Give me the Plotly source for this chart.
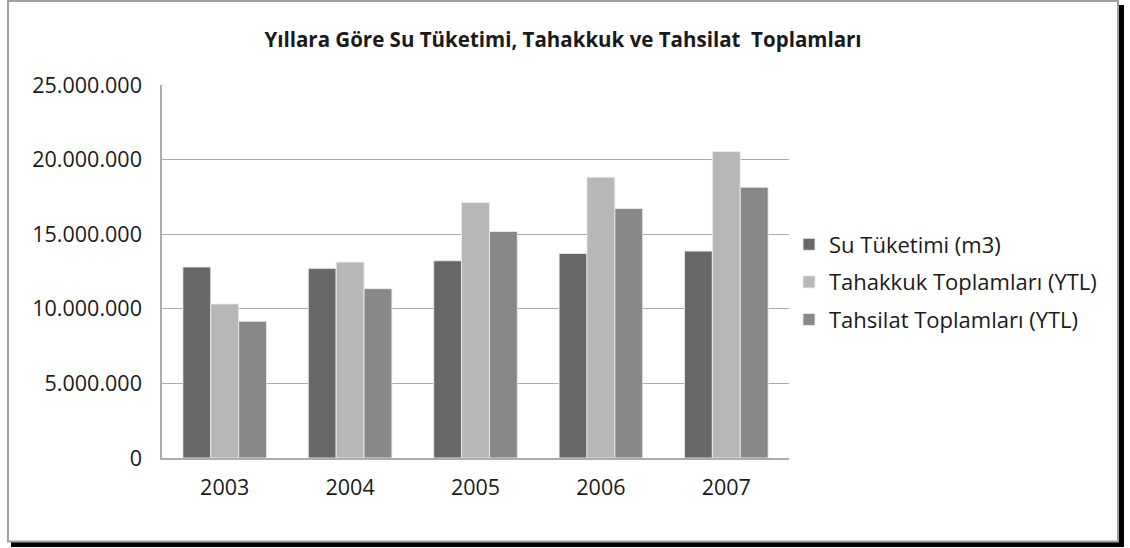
import plotly.graph_objects as go

years = ["2003", "2004", "2005", "2006", "2007"]
su_tuketimi = [12800000, 12710000, 13220000, 13710000, 13870000]
tahakkuk = [10320000, 13130000, 17120000, 18820000, 20540000]
tahsilat = [9160000, 11350000, 15180000, 16720000, 18150000]

series = [
    ("Su Tüketimi (m3)", su_tuketimi, "#686868"),
    ("Tahakkuk Toplamları (YTL)", tahakkuk, "#B7B7B7"),
    ("Tahsilat Toplamları (YTL)", tahsilat, "#888888"),
]

FONT = "Open Sans, sans-serif"
W, H = 1130, 548
L, R, T, B = 162, 341, 85, 90
PW, PH = W - L - R, H - T - B


def px_x(x):
    return (x - L) / PW


def px_y(y):
    return (H - B - y) / PH


fig = go.Figure()
for i, (name, vals, color) in enumerate(series):
    fig.add_trace(go.Bar(
        x=years, y=vals, name=name,
        marker=dict(color=color, line=dict(color="rgba(235,235,235,0.9)", width=1)),
        legendgroup=f"g{i}",
    ))

# chart frame with a drop shadow, like the spreadsheet export
fig.add_shape(type="rect", xref="paper", yref="paper", layer="below",
              x0=px_x(11), x1=px_x(1124), y0=px_y(547), y1=px_y(5),
              fillcolor="black", line=dict(width=0))
fig.add_shape(type="rect", xref="paper", yref="paper", layer="below",
              x0=px_x(8), x1=px_x(1118), y0=px_y(541.5), y1=px_y(1),
              fillcolor="white", line=dict(color="#A0A0A0", width=2))

fig.update_layout(
    width=W, height=H,
    margin=dict(l=L, r=R, t=T, b=B),
    paper_bgcolor="white",
    plot_bgcolor="rgba(0,0,0,0)",
    separators=",.",
    font=dict(family=FONT, size=21.5, color="#1a1a1a"),
    title=dict(
        text="<b>Yıllara Göre Su Tüketimi, Tahakkuk ve Tahsilat  Toplamları</b>",
        x=563 / W, xref="container", xanchor="center",
        y=1 - 40 / H, yref="container", yanchor="middle",
        font=dict(family=FONT, size=20.5, color="#1a1a1a"),
    ),
    barmode="group",
    bargap=0.333,
    bargroupgap=0,
    legend=dict(
        x=px_x(789), xanchor="left",
        y=px_y(282), yanchor="middle",
        font=dict(family=FONT, size=22, color="#1a1a1a"),
        tracegroupgap=6,
        itemwidth=30,
        bgcolor="rgba(0,0,0,0)",
    ),
)
fig.update_xaxes(
    showgrid=False, showline=True, linecolor="#ABABAB", linewidth=1.5,
    ticks="", ticklabelstandoff=9,
)
fig.update_yaxes(
    range=[0, 25000000], dtick=5000000, tickformat=",d",
    showgrid=True, gridcolor="#ABABAB", gridwidth=1.3,
    showline=True, linecolor="#ABABAB", linewidth=1.5,
    zeroline=False, ticks="", ticklabelstandoff=14,
)

# the page has a default body margin; drop it so the figure sits at (0, 0)
fig.write_html(
    "out.html",
    config={"displayModeBar": False},
    post_script="document.body.style.margin='0';",
)
